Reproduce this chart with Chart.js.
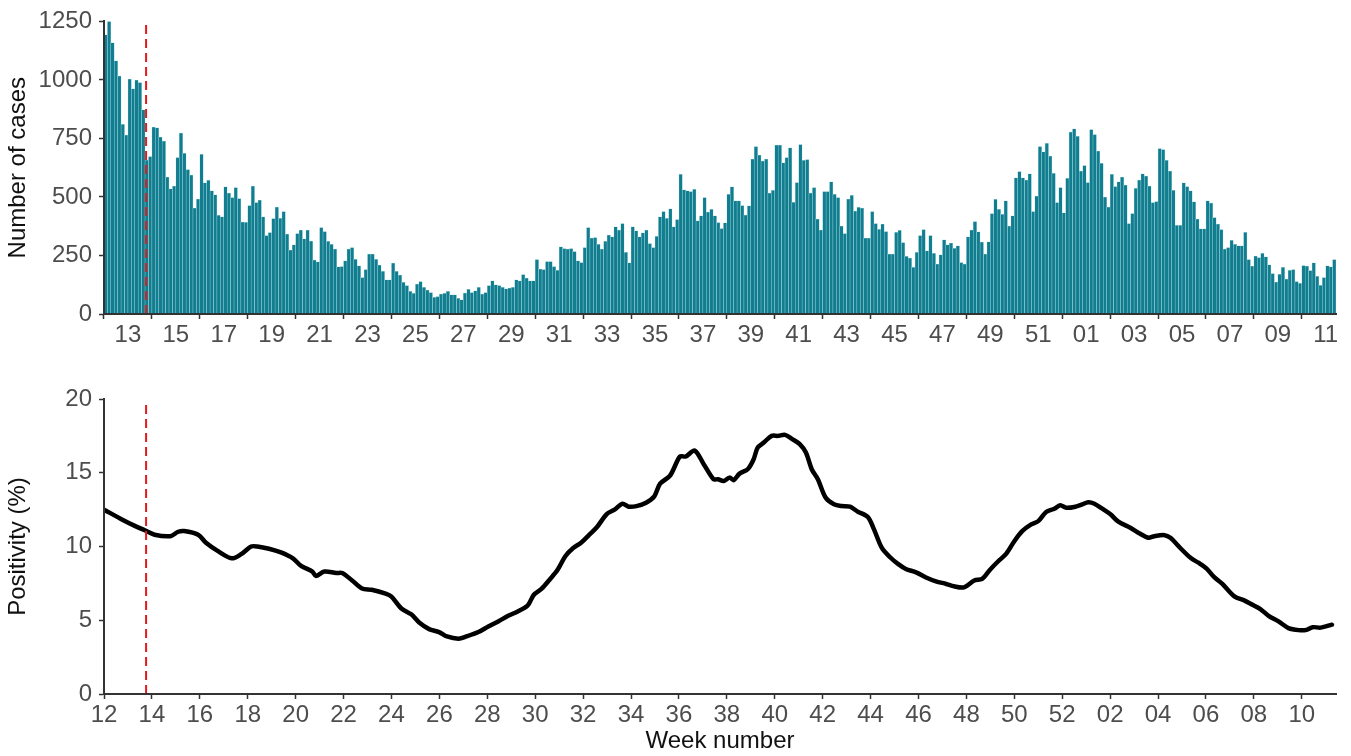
<!DOCTYPE html>
<html>
<head>
<meta charset="utf-8">
<script src="https://cdn.jsdelivr.net/npm/chart.js@4.4.1/dist/chart.umd.min.js"></script>
<style>
  body { margin: 0; background: #fff; }
  canvas { display: block; }
</style>
</head>
<body>
<canvas id="cases" width="1351" height="360"></canvas>
<canvas id="positivity" width="1351" height="396"></canvas>
<script>
// daily confirmed cases, one value per day starting Monday of week 12
const dailyCases = [
  1193, 1250, 1158, 1082, 1016, 810, 764, 1004, 962, 999,
  989, 872, 658, 672, 798, 795, 756, 739, 585, 535,
  547, 668, 773, 686, 617, 594, 452, 491, 682, 560,
  571, 526, 509, 422, 415, 543, 517, 497, 540, 493,
  393, 392, 463, 547, 476, 487, 415, 335, 348, 408,
  457, 409, 438, 341, 273, 295, 344, 358, 321, 359,
  312, 230, 223, 369, 352, 310, 298, 277, 202, 203,
  227, 277, 284, 234, 206, 156, 190, 256, 256, 234,
  209, 182, 146, 146, 217, 182, 166, 135, 121, 97,
  88, 128, 138, 114, 102, 92, 71, 74, 85, 88,
  97, 82, 82, 67, 61, 89, 105, 92, 99, 114,
  85, 92, 121, 142, 125, 121, 114, 107, 111, 114,
  146, 142, 168, 153, 142, 142, 232, 192, 190, 224,
  224, 203, 187, 287, 280, 277, 280, 267, 227, 220,
  284, 369, 324, 327, 298, 277, 310, 337, 330, 372,
  358, 386, 263, 219, 372, 355, 330, 347, 359, 301,
  284, 332, 415, 438, 409, 449, 372, 403, 597, 530,
  526, 523, 533, 398, 419, 497, 435, 447, 419, 391,
  365, 389, 511, 543, 483, 483, 463, 423, 462, 662,
  715, 679, 653, 662, 517, 528, 722, 722, 646, 668,
  710, 477, 561, 724, 656, 660, 517, 540, 406, 358,
  523, 523, 565, 511, 497, 376, 344, 491, 507, 440,
  456, 452, 324, 324, 438, 386, 362, 384, 352, 256,
  256, 349, 357, 305, 246, 239, 199, 263, 335, 361,
  270, 335, 259, 213, 253, 317, 295, 303, 281, 291,
  220, 213, 330, 358, 395, 351, 307, 256, 308, 429,
  490, 447, 426, 483, 376, 419, 582, 608, 582, 572,
  599, 438, 504, 715, 693, 729, 675, 601, 476, 540,
  432, 580, 777, 791, 759, 611, 634, 561, 788, 767,
  696, 644, 500, 457, 597, 544, 565, 585, 551, 386,
  429, 537, 572, 599, 589, 547, 476, 480, 707, 702,
  656, 611, 528, 379, 379, 560, 544, 526, 479, 406,
  364, 364, 483, 474, 412, 384, 361, 277, 284, 315,
  298, 291, 291, 349, 233, 205, 247, 241, 259, 244,
  210, 173, 136, 170, 199, 149, 187, 190, 138, 131,
  207, 205, 185, 219, 161, 122, 156, 206, 202, 233
]

// rolling test positivity (%), sampled by day since start of week 12
const positivityDay = [
  0, 5.5, 9, 11.9, 14.8, 19.4, 21.7, 23.4, 27.5, 29.8,
  33.2, 37.3, 40.2, 43, 44.8, 48.2, 51.7, 55.2, 57.5, 60.9,
  61.9, 64.4, 67.9, 69.6, 72.5, 75.4, 78.2, 82.3, 84, 86.9,
  89.8, 92.1, 95, 97.9, 100.2, 103.6, 105.9, 109.4, 112.3, 115.2,
  118.1, 120.9, 123.8, 125.6, 127.9, 130.2, 132.5, 134.8, 137.1, 139.4,
  141.7, 144, 146.9, 149.2, 151.5, 153.3, 155.6, 158.4, 160.8, 162.5,
  165.4, 168.3, 170, 172.6, 175.2, 178.1, 179.4, 181.1, 182.8, 184,
  185.7, 188.1, 189.8, 191, 192.8, 195.1, 196.9, 199, 201, 203.3,
  205.1, 206.8, 208.6, 210.9, 213.3, 215.6, 218, 220.3, 223.2, 225,
  227.3, 229.7, 232, 234.3, 237.3, 240.2, 243.1, 246.1, 248.4, 251.3,
  254.3, 256.6, 258.9, 261.3, 263.6, 266, 268.3, 270.6, 273, 275.3,
  277.7, 279.4, 281.2, 283.5, 285.9, 287.6, 289.4, 291.7, 294.1, 296.4,
  299.9, 302.8, 305.2, 306.9, 309.9, 311.6, 314.5, 317.5, 319.8, 322.2,
  324.5, 326.8, 330.3, 333.3, 335.6, 337.9, 340.3, 343.2, 346.1, 349.1,
  351.4, 353.2, 355.5, 358.8
]
const positivityPct = [
  12.5, 11.8, 11.4, 11.1, 10.8, 10.7, 11.0, 11.05, 10.8, 10.25,
  9.7, 9.2, 9.5, 10.0, 10.0, 9.85, 9.6, 9.2, 8.7, 8.3,
  8.0, 8.3, 8.2, 8.2, 7.7, 7.15, 7.07, 6.8, 6.6, 5.8,
  5.4, 4.85, 4.4, 4.2, 3.9, 3.75, 3.9, 4.2, 4.58, 4.92,
  5.3, 5.6, 6.0, 6.73, 7.14, 7.75, 8.4, 9.34, 9.9, 10.25,
  10.77, 11.3, 12.2, 12.5, 12.9, 12.7, 12.74, 12.97, 13.4, 14.26,
  14.8, 16.1, 16.1, 16.5, 15.6, 14.56, 14.56, 14.44, 14.67, 14.5,
  14.94, 15.24, 15.9, 16.7, 17.05, 17.5, 17.5, 17.57, 17.3, 16.94,
  16.37, 15.24, 14.56, 13.3, 12.86, 12.74, 12.7, 12.36, 12.0, 11.16,
  9.9, 9.27, 8.82, 8.48, 8.25, 7.9, 7.64, 7.46, 7.3, 7.23,
  7.7, 7.8, 8.43, 9.0, 9.5, 10.36, 11.04, 11.45, 11.72, 12.34,
  12.56, 12.8, 12.63, 12.68, 12.86, 13.0, 12.9, 12.56, 12.18, 11.68,
  11.27, 10.86, 10.59, 10.7, 10.77, 10.59, 9.9, 9.23, 8.9, 8.5,
  7.9, 7.46, 6.62, 6.33, 6.05, 5.76, 5.3, 4.92, 4.47, 4.33,
  4.35, 4.53, 4.5, 4.7
]

const caseWeekLabels = ['13', '15', '17', '19', '21', '23', '25', '27', '29', '31', '33', '35', '37',
  '39', '41', '43', '45', '47', '49', '51', '01', '03', '05', '07', '09', '11']
const positivityWeekLabels = ['12', '14', '16', '18', '20', '22', '24', '26', '28', '30', '32', '34', '36',
  '38', '40', '42', '44', '46', '48', '50', '52', '02', '04', '06', '08', '10']

// day the intervention started (dashed marker)
const cutoffDay = 12.3

Chart.defaults.font.family = "'Liberation Sans', Arial, sans-serif"
Chart.defaults.font.size = 24
Chart.defaults.color = '#4d4d4d'
Chart.defaults.animation = false
Chart.defaults.plugins.legend.display = false
Chart.defaults.plugins.tooltip.enabled = false

const axisColor = '#333'
const lastDay = dailyCases.length

function weekAxis(labels, firstDay, height, title) {
  return {
    type: 'linear',
    min: 0,
    max: lastDay,
    offset: false,
    border: { display: true, color: axisColor, width: 2, z: 1 },
    grid: { drawOnChartArea: false, drawTicks: true, tickLength: 5, tickWidth: 1.5, tickColor: axisColor },
    ticks: { autoSkip: false, maxRotation: 0, padding: 2, callback: (v, i) => labels[i] },
    afterBuildTicks: scale => {
      scale.ticks = labels.map((l, k) => ({ value: firstDay + 14 * k }))
    },
    afterFit: scale => { scale.height = height },
    title: { display: !!title, text: title || '', color: '#111', padding: 0 }
  }
}

function valueAxis(max, step, title) {
  return {
    min: 0,
    max: max,
    border: { display: true, color: axisColor, width: 2, z: 1 },
    grid: { drawOnChartArea: false, drawTicks: true, tickLength: 5, tickWidth: 1.5, tickColor: axisColor },
    ticks: { stepSize: step, padding: 7, callback: v => String(v) },
    afterFit: scale => { scale.width = 104 },
    title: { display: true, text: title, color: '#111', padding: { top: 4, bottom: 0 } }
  }
}

function cutoffLine(top) {
  return {
    type: 'line',
    data: [{ x: cutoffDay, y: 0 }, { x: cutoffDay, y: top }],
    borderColor: '#e3191c',
    borderWidth: 2,
    borderDash: [9, 5],
    pointRadius: 0,
    order: 0
  }
}

new Chart(document.getElementById('cases'), {
  type: 'bar',
  data: {
    datasets: [
      cutoffLine(1240),
      {
        data: dailyCases.map((v, i) => ({ x: i + 0.5, y: v })),
        backgroundColor: '#127d8e',
        borderColor: '#a9dce4',
        borderWidth: { top: 0.5, left: 0.5, right: 0.5, bottom: 0 },
        barPercentage: 1,
        categoryPercentage: 1,
        order: 1
      }
    ]
  },
  options: {
    responsive: false,
    layout: { padding: { top: 20, right: 15, left: 0, bottom: 0 } },
    scales: {
      x: weekAxis(caseWeekLabels, 7, 46),
      y: valueAxis(1250, 250, 'Number of cases')
    }
  }
})

new Chart(document.getElementById('positivity'), {
  type: 'line',
  data: {
    datasets: [
      cutoffLine(19.7),
      {
        data: positivityDay.map((d, i) => ({ x: d, y: positivityPct[i] })),
        borderColor: '#000',
        borderWidth: 4.5,
        pointRadius: 0,
        tension: 0.3,
        borderJoinStyle: 'round',
        borderCapStyle: 'round',
        order: 1
      }
    ]
  },
  options: {
    responsive: false,
    layout: { padding: { top: 39, right: 15, left: 0, bottom: 0 } },
    scales: {
      x: weekAxis(positivityWeekLabels, 0, 62, 'Week number'),
      y: valueAxis(20, 5, 'Positivity (%)')
    }
  }
})
</script>
</body>
</html>
